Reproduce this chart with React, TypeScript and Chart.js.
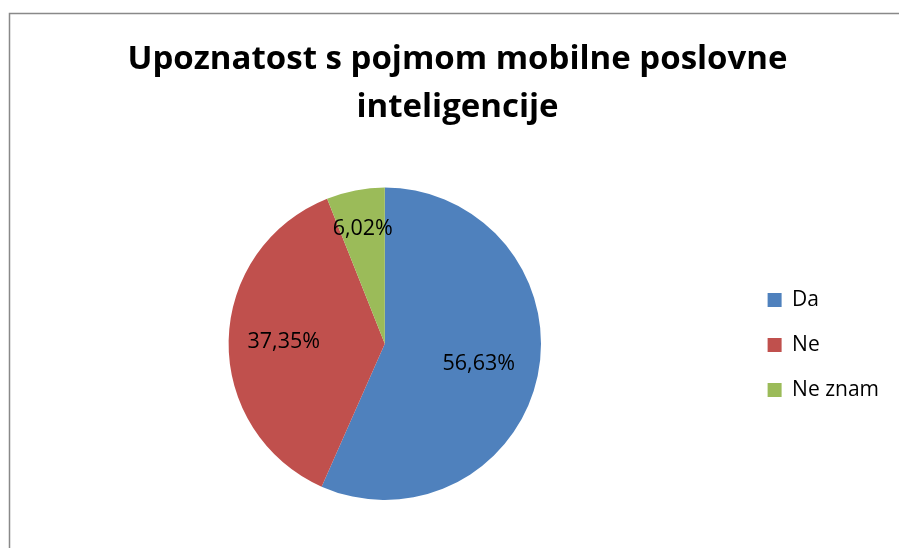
import React, { useEffect, useRef } from "react";
import { Chart, registerables } from "chart.js";

Chart.register(...registerables);

const titleLines = ["Upoznatost s pojmom mobilne poslovne", "inteligencije"];
const categories = ["Da", "Ne", "Ne znam"];
const values = [56.63, 37.35, 6.02];
const colors = ["#4F81BD", "#C0504D", "#9BBB59"];
const labelRadiusFractions = [0.615, 0.647, 0.75];

const FONT = "'Open Sans', 'DejaVu Sans', sans-serif";

const borderPlugin = {
  id: "frameBorder",
  beforeDraw(chart: any) {
    const ctx = chart.ctx;
    ctx.save();
    ctx.fillStyle = "#ffffff";
    ctx.fillRect(0, 0, chart.width, chart.height);
    ctx.strokeStyle = "#898989";
    ctx.lineWidth = 1.5;
    ctx.beginPath();
    ctx.moveTo(9.5, chart.height + 5);
    ctx.lineTo(9.5, 13.5);
    ctx.lineTo(chart.width + 5, 13.5);
    ctx.stroke();
    ctx.restore();
  },
};

const sliceLabelPlugin = {
  id: "sliceLabels",
  afterDatasetsDraw(chart: any) {
    const ctx = chart.ctx;
    const meta = chart.getDatasetMeta(0);
    const data = chart.data.datasets[0].data as number[];
    ctx.save();
    ctx.font = `21.5px ${FONT}`;
    ctx.fillStyle = "#000000";
    ctx.textAlign = "center";
    ctx.textBaseline = "middle";
    meta.data.forEach((arc: any, i: number) => {
      const p = arc.getProps(["x", "y", "startAngle", "endAngle", "outerRadius"], true);
      const mid = (p.startAngle + p.endAngle) / 2;
      const r = p.outerRadius * labelRadiusFractions[i];
      const x = p.x + Math.cos(mid) * r;
      const y = p.y + Math.sin(mid) * r;
      const txt = data[i].toFixed(2).replace(".", ",") + "%";
      ctx.fillText(txt, x, y);
    });
    ctx.restore();
  },
};

export default function App() {
  const ref = useRef<HTMLCanvasElement>(null);
  useEffect(() => {
    if (!ref.current) return;
    const chart = new Chart(ref.current, {
      type: "pie",
      data: {
        labels: categories,
        datasets: [
          {
            data: values,
            backgroundColor: colors,
            borderWidth: 0,
          },
        ],
      },
      options: {
        animation: false,
        responsive: false,
        layout: { padding: { left: 26, right: 10, top: 0, bottom: 48 } },
        plugins: {
          title: {
            display: true,
            text: titleLines,
            color: "#000000",
            font: { family: FONT, size: 33, weight: "bold", lineHeight: 1.4545 },
            padding: { top: 35.6, bottom: 56 },
          },
          legend: {
            display: true,
            position: "right",
            title: {
              display: true,
              text: "",
              font: { size: 1, lineHeight: 1 },
              padding: { top: 189, bottom: 0 },
            },
            labels: {
              boxWidth: 14,
              boxHeight: 14,
              padding: 24,
              color: "#000000",
              font: { family: FONT, size: 21 },
            },
          },
          tooltip: { enabled: false },
        },
      },
      plugins: [borderPlugin, sliceLabelPlugin],
    });
    return () => chart.destroy();
  }, []);
  return (
    <div style={{ position: "fixed", left: 0, top: 0, width: 899, height: 548, background: "#fff" }}>
      <canvas ref={ref} width={899} height={548} style={{ display: "block" }} />
    </div>
  );
}
